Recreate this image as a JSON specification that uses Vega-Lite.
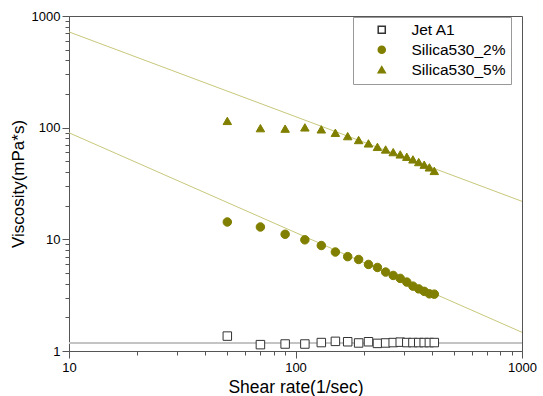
{
  "$schema": "https://vega.github.io/schema/vega-lite/v6.json",
  "autosize": {"type": "none"},
  "width": 453,
  "height": 335,
  "padding": {"left": 69, "top": 16, "right": 21, "bottom": 45},
  "background": "white",
  "config": {
    "view": {"stroke": "#555", "strokeWidth": 1},
    "font": "Liberation Sans",
    "axis": {
      "grid": false,
      "domainColor": "#555",
      "tickColor": "#555",
      "labelColor": "black",
      "labelFontSize": 13,
      "titleFontSize": 17,
      "titleFontWeight": "normal",
      "titleColor": "black",
      "labelFont": "Liberation Sans",
      "titleFont": "Liberation Sans"
    }
  },
  "datasets": {
    "obs": [
      {"x": 50, "y": 1.36, "series": "Jet A1"},
      {"x": 70, "y": 1.14, "series": "Jet A1"},
      {"x": 90, "y": 1.155, "series": "Jet A1"},
      {"x": 110, "y": 1.155, "series": "Jet A1"},
      {"x": 130, "y": 1.19, "series": "Jet A1"},
      {"x": 150, "y": 1.22, "series": "Jet A1"},
      {"x": 170, "y": 1.21, "series": "Jet A1"},
      {"x": 190, "y": 1.18, "series": "Jet A1"},
      {"x": 210, "y": 1.21, "series": "Jet A1"},
      {"x": 230, "y": 1.17, "series": "Jet A1"},
      {"x": 250, "y": 1.18, "series": "Jet A1"},
      {"x": 270, "y": 1.19, "series": "Jet A1"},
      {"x": 290, "y": 1.2, "series": "Jet A1"},
      {"x": 310, "y": 1.19, "series": "Jet A1"},
      {"x": 330, "y": 1.19, "series": "Jet A1"},
      {"x": 350, "y": 1.19, "series": "Jet A1"},
      {"x": 370, "y": 1.19, "series": "Jet A1"},
      {"x": 390, "y": 1.19, "series": "Jet A1"},
      {"x": 410, "y": 1.19, "series": "Jet A1"},
      {"x": 50, "y": 14.3, "series": "Silica530_2%"},
      {"x": 70, "y": 12.9, "series": "Silica530_2%"},
      {"x": 90, "y": 11.1, "series": "Silica530_2%"},
      {"x": 110, "y": 9.9, "series": "Silica530_2%"},
      {"x": 130, "y": 8.8, "series": "Silica530_2%"},
      {"x": 150, "y": 7.7, "series": "Silica530_2%"},
      {"x": 170, "y": 7.0, "series": "Silica530_2%"},
      {"x": 190, "y": 6.6, "series": "Silica530_2%"},
      {"x": 210, "y": 5.96, "series": "Silica530_2%"},
      {"x": 230, "y": 5.6, "series": "Silica530_2%"},
      {"x": 250, "y": 5.09, "series": "Silica530_2%"},
      {"x": 270, "y": 4.75, "series": "Silica530_2%"},
      {"x": 290, "y": 4.47, "series": "Silica530_2%"},
      {"x": 310, "y": 4.14, "series": "Silica530_2%"},
      {"x": 330, "y": 3.81, "series": "Silica530_2%"},
      {"x": 350, "y": 3.6, "series": "Silica530_2%"},
      {"x": 370, "y": 3.42, "series": "Silica530_2%"},
      {"x": 390, "y": 3.25, "series": "Silica530_2%"},
      {"x": 410, "y": 3.23, "series": "Silica530_2%"},
      {"x": 50, "y": 115, "series": "Silica530_5%"},
      {"x": 70, "y": 99, "series": "Silica530_5%"},
      {"x": 90, "y": 98, "series": "Silica530_5%"},
      {"x": 110, "y": 100.6, "series": "Silica530_5%"},
      {"x": 130, "y": 96.6, "series": "Silica530_5%"},
      {"x": 150, "y": 90, "series": "Silica530_5%"},
      {"x": 170, "y": 84, "series": "Silica530_5%"},
      {"x": 190, "y": 77.5, "series": "Silica530_5%"},
      {"x": 210, "y": 72.3, "series": "Silica530_5%"},
      {"x": 230, "y": 67.3, "series": "Silica530_5%"},
      {"x": 250, "y": 63.8, "series": "Silica530_5%"},
      {"x": 270, "y": 60.4, "series": "Silica530_5%"},
      {"x": 290, "y": 57.6, "series": "Silica530_5%"},
      {"x": 310, "y": 54.9, "series": "Silica530_5%"},
      {"x": 330, "y": 52, "series": "Silica530_5%"},
      {"x": 350, "y": 49.2, "series": "Silica530_5%"},
      {"x": 370, "y": 46.6, "series": "Silica530_5%"},
      {"x": 390, "y": 44.1, "series": "Silica530_5%"},
      {"x": 410, "y": 41, "series": "Silica530_5%"}
    ],
    "fits": [
      {"x": 10, "y": 1.18, "line": "base"},
      {"x": 1000, "y": 1.18, "line": "base"},
      {"x": 10, "y": 90, "line": "fit2"},
      {"x": 1000, "y": 1.47, "line": "fit2"},
      {"x": 10, "y": 720, "line": "fit5"},
      {"x": 1000, "y": 21.9, "line": "fit5"}
    ]
  },
  "layer": [
    {
      "data": {"name": "fits"},
      "transform": [{"filter": "datum.line === 'base'"}],
      "mark": {"type": "line", "stroke": "#c4c4c4", "strokeWidth": 2, "clip": true},
      "encoding": {
        "x": {"field": "x", "type": "quantitative"},
        "y": {"field": "y", "type": "quantitative"}
      }
    },
    {
      "data": {"name": "fits"},
      "transform": [{"filter": "datum.line !== 'base'"}],
      "mark": {"type": "line", "stroke": "#c8c87c", "strokeWidth": 1, "clip": true},
      "encoding": {
        "x": {"field": "x", "type": "quantitative"},
        "y": {"field": "y", "type": "quantitative"},
        "detail": {"field": "line"}
      }
    },
    {
      "data": {"name": "obs"},
      "mark": {"type": "point", "opacity": 1, "strokeWidth": 1, "size": 72},
      "encoding": {
        "x": {
          "field": "x",
          "type": "quantitative",
          "scale": {"type": "log", "domain": [10, 1000], "nice": false},
          "axis": {
            "title": "Shear rate(1/sec)",
            "titleFontSize": 17.5,
            "values": [10, 20, 30, 40, 50, 60, 70, 80, 90, 100, 200, 300, 400, 500, 600, 700, 800, 900, 1000],
            "format": "d",
            "labelExpr": "indexof([10,100,1000], datum.value) >= 0 ? datum.label : ''",
            "tickSize": {"condition": {"test": "indexof([10,100,1000], datum.value) >= 0", "value": 7}, "value": 4},
            "labelPadding": 3,
            "titlePadding": 4,
            "labelFlush": false
          }
        },
        "y": {
          "field": "y",
          "type": "quantitative",
          "scale": {"type": "log", "domain": [1, 1000], "nice": false},
          "axis": {
            "title": "Viscosity(mPa*s)",
            "values": [1, 2, 3, 4, 5, 6, 7, 8, 9, 10, 20, 30, 40, 50, 60, 70, 80, 90, 100, 200, 300, 400, 500, 600, 700, 800, 900, 1000],
            "format": "d",
            "labelExpr": "indexof([1,10,100,1000], datum.value) >= 0 ? datum.label : ''",
            "tickSize": {"condition": {"test": "indexof([1,10,100,1000], datum.value) >= 0", "value": 7}, "value": 4},
            "labelPadding": 2,
            "titlePadding": 4,
            "labelFlush": false
          }
        },
        "shape": {
          "field": "series",
          "type": "nominal",
          "scale": {"domain": ["Jet A1", "Silica530_2%", "Silica530_5%"], "range": ["square", "circle", "triangle-up"]},
          "legend": {
            "title": null,
            "orient": "none",
            "legendX": 284,
            "legendY": 1,
            "strokeColor": "#999",
            "fillColor": "white",
            "padding": 5,
            "symbolOffset": 16,
            "labelOffset": 22,
            "labelFontSize": 15.5,
            "labelColor": "black",
            "labelFont": "Liberation Sans",
            "symbolSize": 50,
            "rowPadding": 3,
            "labelLimit": 300
          }
        },
        "fill": {
          "field": "series",
          "type": "nominal",
          "scale": {"domain": ["Jet A1", "Silica530_2%", "Silica530_5%"], "range": ["white", "#807f00", "#807f00"]},
          "legend": null
        },
        "stroke": {
          "field": "series",
          "type": "nominal",
          "scale": {"domain": ["Jet A1", "Silica530_2%", "Silica530_5%"], "range": ["#333333", "#807f00", "#807f00"]},
          "legend": null
        }
      }
    }
  ]
}
